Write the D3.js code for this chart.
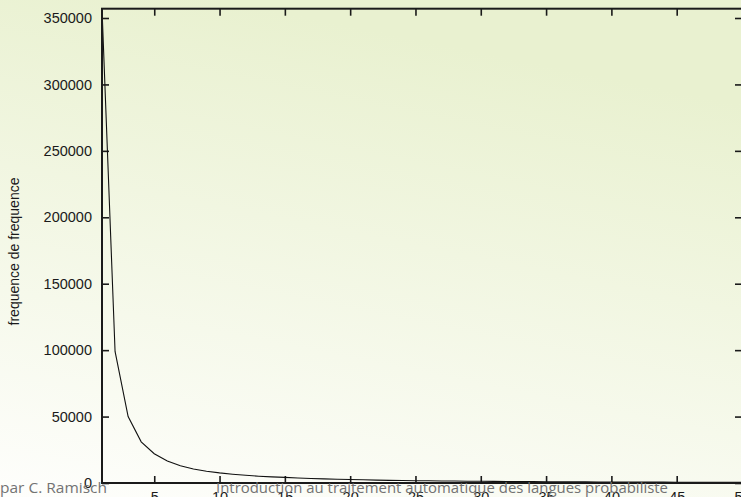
<!DOCTYPE html>
<html>
<head>
<meta charset="utf-8">
<script src="https://cdn.jsdelivr.net/npm/d3@7"></script>
<style>
  html, body { margin: 0; padding: 0; background: #fff; }
  svg { display: block; }
</style>
</head>
<body>
<svg width="741" height="497"></svg>
<script>
// data: frequence de frequence (rang 1..50)
const ranks = d3.range(1, 51);
const freqs = [357000, 99000, 50000, 31000, 22000, 16500, 13000, 10500, 8900, 7600,
  6600, 5800, 5100, 4600, 4200, 3800, 3400, 3100, 2800, 2600,
  2400, 2200, 2000, 1900, 1750, 1650, 1550, 1450, 1350, 1280,
  1200, 1130, 1070, 1010, 960, 910, 870, 830, 790, 750,
  720, 690, 660, 630, 600, 580, 560, 540, 520, 500];
const xTicks = [5, 10, 15, 20, 25, 30, 35, 40, 45, 50];
const yTicks = [0, 50000, 100000, 150000, 200000, 250000, 300000, 350000];

const svg = d3.select('svg');

// background gradient
const defs = svg.append('defs');
const grad = defs.append('linearGradient')
    .attr('id', 'bg')
    .attr('x1', 0).attr('y1', 1).attr('x2', 0.3).attr('y2', 0);
grad.append('stop').attr('offset', '0%').attr('stop-color', '#fefefc');
grad.append('stop').attr('offset', '100%').attr('stop-color', '#e9f1d0');
svg.append('rect')
    .attr('width', 741).attr('height', 497)
    .attr('fill', 'url(#bg)');

const plotLeft = 102, plotRight = 742, plotTop = 8.7, plotBottom = 483;

const x = d3.scaleLinear().domain([1, 50]).range([plotLeft, plotRight]);
const y = d3.scaleLinear().domain([0, 357000]).range([plotBottom, plotTop]);

const font = '"Liberation Sans", Arial, sans-serif';

function styleAxis(g) {
    g.select('.domain').remove();
    g.selectAll('.tick line').attr('stroke', '#1a1a1a').attr('stroke-width', 1.6);
    g.selectAll('.tick text')
        .attr('fill', '#1a1a1a')
        .attr('font-family', font)
        .attr('font-size', 14.5);
}

svg.append('g')
    .attr('transform', `translate(${plotLeft},0)`)
    .call(d3.axisLeft(y).tickValues(yTicks).tickFormat(d3.format('d'))
        .tickSizeInner(-7).tickSizeOuter(0).tickPadding(10))
    .call(styleAxis);

svg.append('g')
    .attr('transform', `translate(${plotRight},0)`)
    .call(d3.axisRight(y).tickValues(yTicks).tickFormat('')
        .tickSizeInner(-7).tickSizeOuter(0))
    .call(styleAxis);

svg.append('g')
    .attr('transform', `translate(0,${plotBottom})`)
    .call(d3.axisBottom(x).tickValues(xTicks).tickFormat(d3.format('d'))
        .tickSizeInner(-7).tickSizeOuter(0).tickPadding(9))
    .call(styleAxis);

svg.append('g')
    .attr('transform', `translate(0,${plotTop})`)
    .call(d3.axisTop(x).tickValues(xTicks).tickFormat('')
        .tickSizeInner(-7).tickSizeOuter(0))
    .call(styleAxis);

// curve
const line = d3.line()
    .x((d, i) => x(ranks[i]))
    .y(d => y(d));

svg.append('path')
    .datum(freqs)
    .attr('fill', 'none')
    .attr('stroke', '#111')
    .attr('stroke-width', 1.1)
    .attr('d', line);

// frame
svg.append('rect')
    .attr('x', plotLeft).attr('y', plotTop)
    .attr('width', plotRight - plotLeft).attr('height', plotBottom - plotTop)
    .attr('fill', 'none')
    .attr('stroke', '#1a1a1a')
    .attr('stroke-width', 2);

// y label
svg.append('text')
    .attr('transform', `translate(19,${(168 + 335) / 2}) rotate(-90)`)
    .attr('text-anchor', 'middle')
    .attr('font-family', font)
    .attr('font-size', 14)
    .attr('fill', '#1a1a1a')
    .text('frequence de frequence');

// footer (beamer footline drawn over the page)
const footFont = '"Open Sans", "DejaVu Sans", sans-serif';
svg.append('text')
    .attr('x', 0).attr('y', 493)
    .attr('font-family', footFont)
    .attr('font-size', 15)
    .attr('fill', '#737373')
    .attr('textLength', 107)
    .attr('lengthAdjust', 'spacingAndGlyphs')
    .text('par C. Ramisch');

svg.append('text')
    .attr('x', 216).attr('y', 493)
    .attr('font-family', footFont)
    .attr('font-size', 15)
    .attr('fill', '#737373')
    .attr('textLength', 452)
    .attr('lengthAdjust', 'spacingAndGlyphs')
    .text('Introduction au traitement automatique des langues probabiliste');
</script>
</body>
</html>
